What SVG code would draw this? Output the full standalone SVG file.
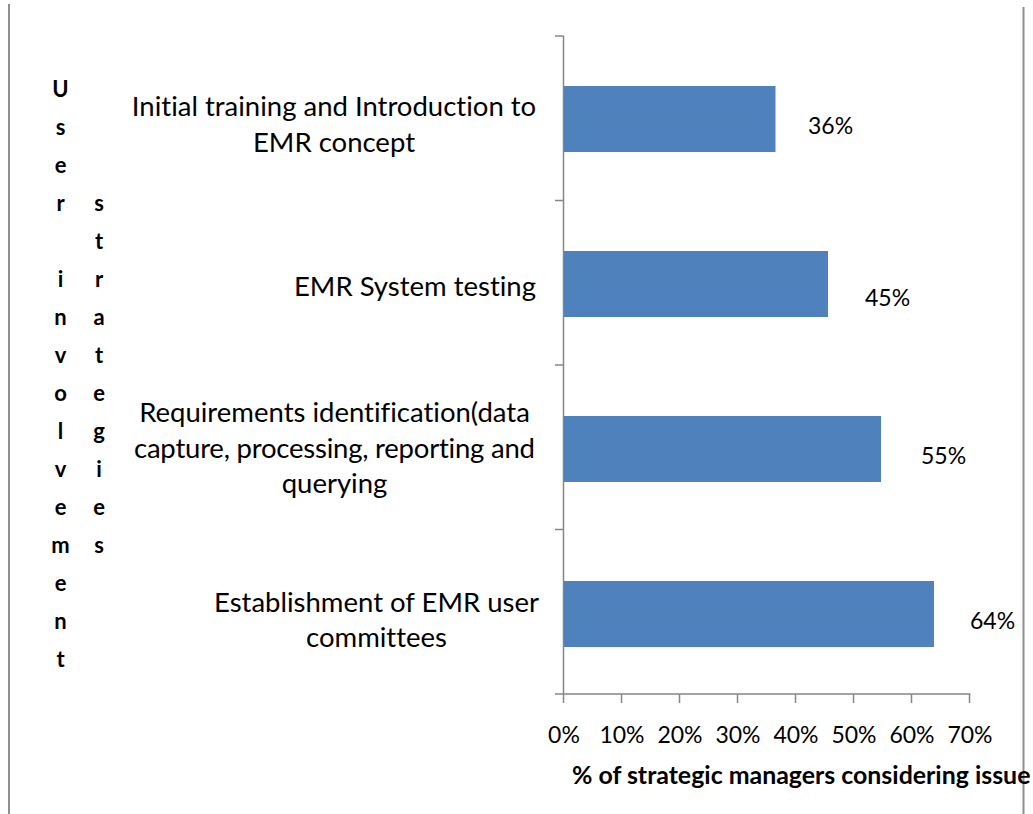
<svg xmlns="http://www.w3.org/2000/svg" width="1033" height="814" viewBox="0 0 1033 814">
  <style>
    text { font-variant-ligatures: none; }
    .frame { stroke: #8f8f8f; stroke-width: 2; fill: none; }
    .axis { stroke: #868686; stroke-width: 1.5; fill: none; }
    .bar { fill: #4f81bd; }
    .cat { font-family: Lato, "Liberation Sans", sans-serif; font-size: 27.5px; fill: #000; }
    .val { font-family: Lato, "Liberation Sans", sans-serif; font-size: 23px; fill: #000; }
    .tick { font-family: Lato, "Liberation Sans", sans-serif; font-size: 23px; fill: #000; text-anchor: middle; }
    .title { font-family: Lato, "Liberation Sans", sans-serif; font-size: 24.9px; font-weight: bold; fill: #000; }
    .vert { font-family: Lato, "Liberation Sans", sans-serif; font-size: 22px; font-weight: bold; fill: #000; text-anchor: middle; }
  </style>
  <rect width="1033" height="814" fill="#ffffff"/>

  <!-- page frame lines -->
  <line class="frame" x1="9" y1="4" x2="9" y2="814"/>
  <line class="frame" x1="1023.5" y1="7" x2="1023.5" y2="814"/>

  <!-- axes with tick marks -->
  <g id="axes">
    <path class="axis" d="M563.5 36 V694 M555 694 H970.5"/>
    <path class="axis" d="M555 36 H563.5 M555 200.5 H563.5 M555 365 H563.5 M555 529.5 H563.5"/>
    <path class="axis" d="M563.5 694 V703 M621.5 694 V703 M679.5 694 V703 M737.5 694 V703 M795.5 694 V703 M853.5 694 V703 M911.5 694 V703 M969.5 694 V703"/>
  </g>

  <!-- bars: value k/11, 5.8px per percent -->
  <g id="bar-training">
    <rect class="bar" x="564" y="86" width="211.5" height="66"/>
    <text class="val" x="808" y="134">36%</text>
  </g>
  <g id="bar-testing">
    <rect class="bar" x="564" y="251" width="264" height="66"/>
    <text class="val" x="865" y="306">45%</text>
  </g>
  <g id="bar-requirements">
    <rect class="bar" x="564" y="416" width="317" height="66"/>
    <text class="val" x="921" y="464">55%</text>
  </g>
  <g id="bar-committees">
    <rect class="bar" x="564" y="581" width="370" height="66"/>
    <text class="val" x="970" y="629">64%</text>
  </g>

  <!-- category labels -->
  <g id="label-training" class="cat" text-anchor="middle">
    <text x="334" y="116">Initial training and Introduction to</text>
    <text x="334" y="151.5">EMR concept</text>
  </g>
  <g id="label-testing" class="cat" text-anchor="end">
    <text x="536" y="296">EMR System testing</text>
  </g>
  <g id="label-requirements" class="cat" text-anchor="middle">
    <text x="334.5" y="422">Requirements identification(data</text>
    <text x="334.5" y="458" textLength="401">capture, processing, reporting and</text>
    <text x="334.5" y="493">querying</text>
  </g>
  <g id="label-committees" class="cat" text-anchor="middle">
    <text x="376.5" y="612">Establishment of EMR user</text>
    <text x="376.5" y="647">committees</text>
  </g>

  <!-- x axis tick labels -->
  <g id="x-ticks">
    <text class="tick" x="564" y="743">0%</text>
    <text class="tick" x="622" y="743">10%</text>
    <text class="tick" x="680" y="743">20%</text>
    <text class="tick" x="738" y="743">30%</text>
    <text class="tick" x="796" y="743">40%</text>
    <text class="tick" x="854" y="743">50%</text>
    <text class="tick" x="912" y="743">60%</text>
    <text class="tick" x="970" y="743">70%</text>
  </g>

  <!-- axis titles -->
  <g id="x-title">
    <text class="title" x="572" y="784">% of strategic managers considering issue</text>
  </g>
  <g id="y-title" class="vert">
    <text x="60.5" y="97">U</text>
    <text x="60.5" y="135">s</text>
    <text x="60.5" y="173">e</text>
    <text x="60.5" y="211">r</text>
    <text x="60.5" y="287">i</text>
    <text x="60.5" y="325">n</text>
    <text x="60.5" y="363">v</text>
    <text x="60.5" y="401">o</text>
    <text x="60.5" y="439">l</text>
    <text x="60.5" y="477">v</text>
    <text x="60.5" y="515">e</text>
    <text x="60.5" y="553">m</text>
    <text x="60.5" y="591">e</text>
    <text x="60.5" y="629">n</text>
    <text x="60.5" y="667">t</text>
    <text x="99" y="211">s</text>
    <text x="99" y="249">t</text>
    <text x="99" y="287">r</text>
    <text x="99" y="325">a</text>
    <text x="99" y="363">t</text>
    <text x="99" y="401">e</text>
    <text x="99" y="439">g</text>
    <text x="99" y="477">i</text>
    <text x="99" y="515">e</text>
    <text x="99" y="553">s</text>
  </g>
</svg>
